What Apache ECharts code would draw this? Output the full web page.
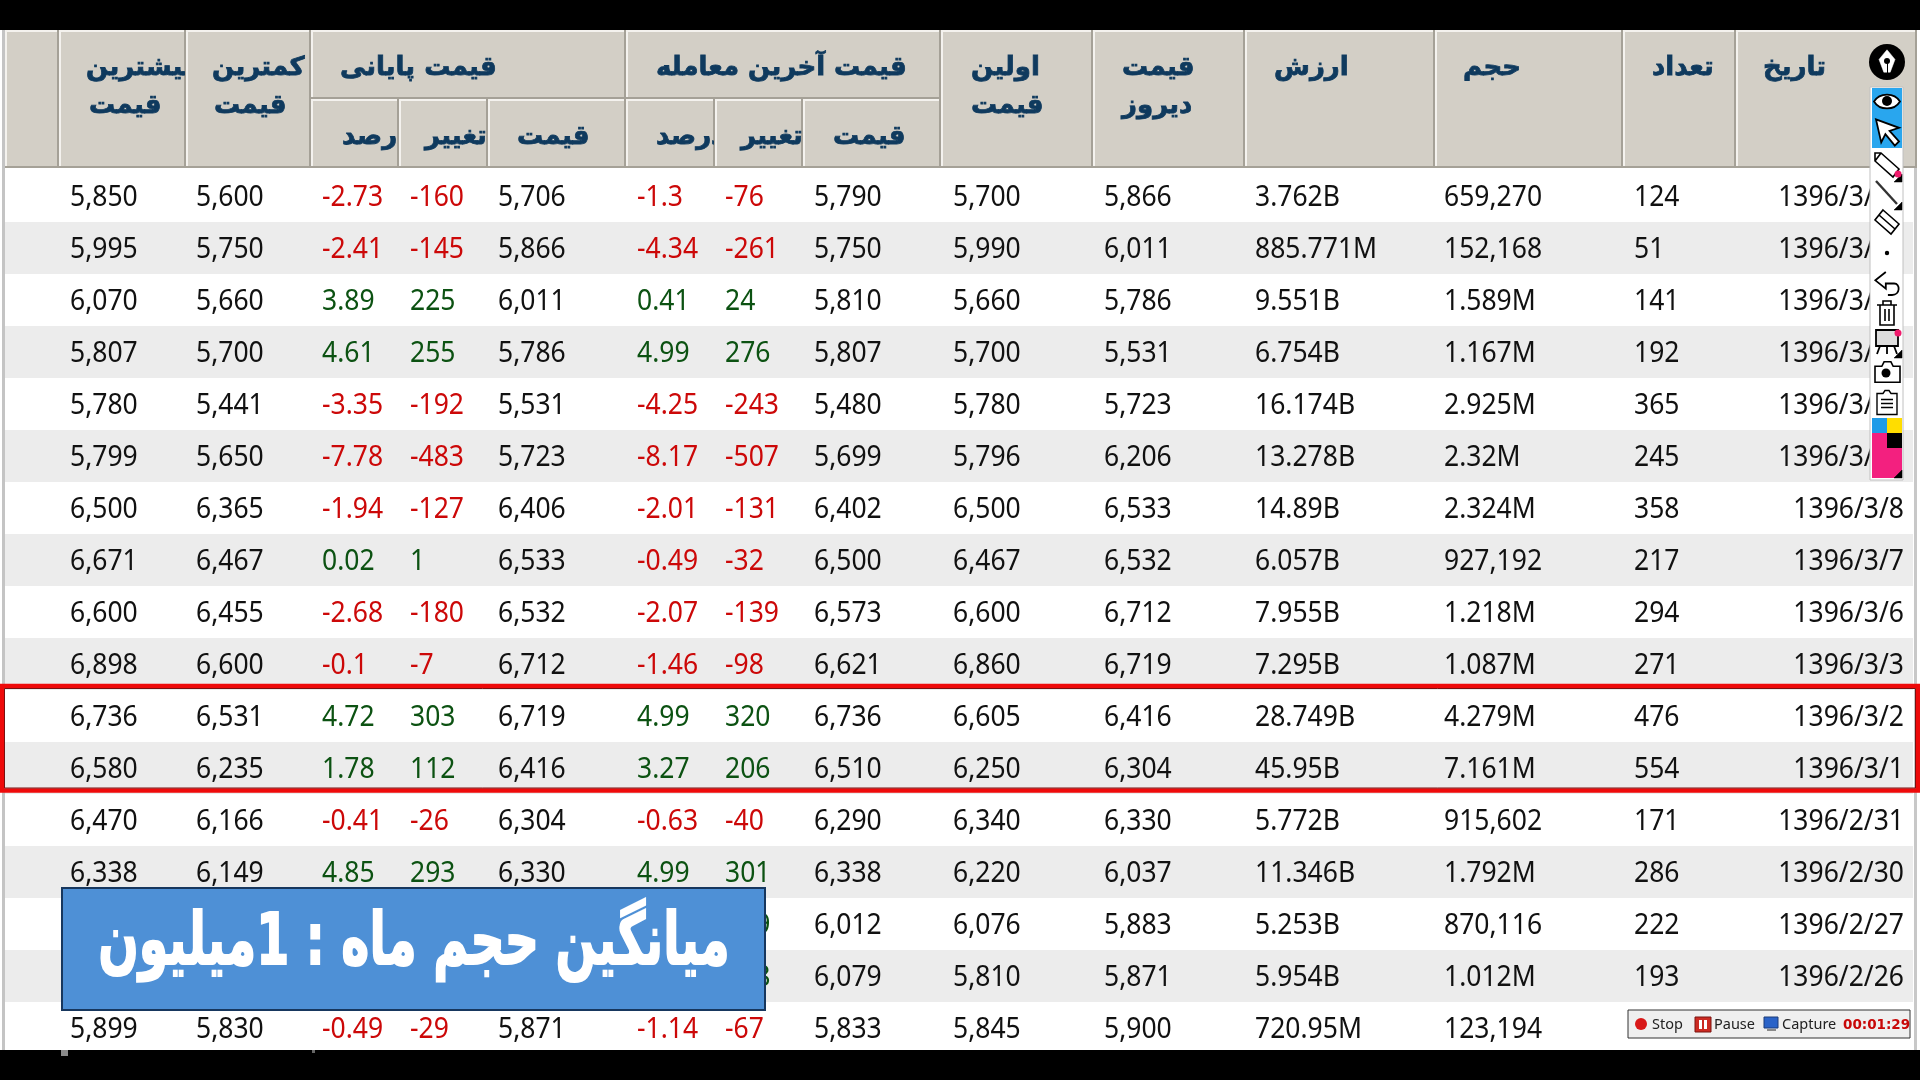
<!DOCTYPE html>
<html>
<head>
<meta charset="utf-8">
<style>html,body{margin:0;padding:0;background:#000}#main{width:1920px;height:1080px}</style>
<script src="https://cdn.jsdelivr.net/npm/echarts@6/dist/echarts.min.js"></script>
</head>
<body>
<div id="main"></div>
<script>
// table columns, top row first. null = hidden under the blue banner
var maxPrices = ['5,850','5,995','6,070','5,807','5,780','5,799','6,500','6,671','6,600','6,898','6,736','6,580','6,470','6,338',null,null,'5,899'];
var minPrices = ['5,600','5,750','5,660','5,700','5,441','5,650','6,365','6,467','6,455','6,600','6,531','6,235','6,166','6,149',null,null,'5,830'];
var closePercents = ['-2.73','-2.41','3.89','4.61','-3.35','-7.78','-1.94','0.02','-2.68','-0.1','4.72','1.78','-0.41','4.85',null,null,'-0.49'];
var closeChanges = ['-160','-145','225','255','-192','-483','-127','1','-180','-7','303','112','-26','293',null,null,'-29'];
var closePrices = ['5,706','5,866','6,011','5,786','5,531','5,723','6,406','6,533','6,532','6,712','6,719','6,416','6,304','6,330',null,null,'5,871'];
var lastPercents = ['-1.3','-4.34','0.41','4.99','-4.25','-8.17','-2.01','-0.49','-2.07','-1.46','4.99','3.27','-0.63','4.99',null,null,'-1.14'];
var lastChanges = ['-76','-261','24','276','-243','-507','-131','-32','-139','-98','320','206','-40','301','129','208','-67'];
var lastPrices = ['5,790','5,750','5,810','5,807','5,480','5,699','6,402','6,500','6,573','6,621','6,736','6,510','6,290','6,338','6,012','6,079','5,833'];
var firstPrices = ['5,700','5,990','5,660','5,700','5,780','5,796','6,500','6,467','6,600','6,860','6,605','6,250','6,340','6,220','6,076','5,810','5,845'];
var yesterdayPrices = ['5,866','6,011','5,786','5,531','5,723','6,206','6,533','6,532','6,712','6,719','6,416','6,304','6,330','6,037','5,883','5,871','5,900'];
var tradeValues = ['3.762B','885.771M','9.551B','6.754B','16.174B','13.278B','14.89B','6.057B','7.955B','7.295B','28.749B','45.95B','5.772B','11.346B','5.253B','5.954B','720.95M'];
var volumes = ['659,270','152,168','1.589M','1.167M','2.925M','2.32M','2.324M','927,192','1.218M','1.087M','4.279M','7.161M','915,602','1.792M','870,116','1.012M','123,194'];
var counts = ['124','51','141','192','365','245','358','217','294','271','476','554','171','286','222','193','194'];
var dates = ['1396/3/21','1396/3/20','1396/3/17','1396/3/16','1396/3/13','1396/3/10','1396/3/8','1396/3/7','1396/3/6','1396/3/3','1396/3/2','1396/3/1','1396/2/31','1396/2/30','1396/2/27','1396/2/26','1396/2/25'];
var highlightRows = [10, 11];

// column layout: [values, x of the text, signed?]
var columns = [
    [maxPrices, 70, false], [minPrices, 196, false],
    [closePercents, 322, true], [closeChanges, 410, true], [closePrices, 498, false],
    [lastPercents, 637, true], [lastChanges, 725, true], [lastPrices, 814, false],
    [firstPrices, 953, false], [yesterdayPrices, 1104, false], [tradeValues, 1255, false],
    [volumes, 1444, false], [counts, 1634, false]
];
var dateRight = 1904;

// header boxes: x0, x1, y0, y1
var headerBoxes = [
    [5,59,30,168],[59,186,30,168],[186,311,30,168],
    [311,626,30,99],[311,399,99,168],[399,488,99,168],[488,626,99,168],
    [626,941,30,99],[626,715,99,168],[715,803,99,168],[803,941,99,168],
    [941,1093,30,168],[1093,1245,30,168],[1245,1435,30,168],[1435,1623,30,168],[1623,1736,30,168],[1736,1917,30,168]
];
// header labels: box index, text, x, y
var headerLabels = [
    [1,'بیشترین',86,68],[1,'قیمت',89,106],
    [2,'کمترین',212,68],[2,'قیمت',214,106],
    [3,'قیمت پایانی',340,68],[4,'درصد',342,137],[5,'تغییر',425,137],[6,'قیمت',517,137],
    [7,'قیمت آخرین معامله',656,68],[8,'درصد',656,137],[9,'تغییر',741,137],[10,'قیمت',833,137],
    [11,'اولین',971,68],[11,'قیمت',971,106],
    [12,'قیمت',1122,68],[12,'دیروز',1122,106],
    [13,'ارزش',1274,68],[14,'حجم',1463,68],[15,'تعداد',1652,68],[16,'تاریخ',1763,68]
];

var rowIndex = dates.map(function (d, i) { return i; });
var cellFont = '28.5px "Noto Sans"';
var cellScale = 0.93;
var headFont = 'bold 26px "DejaVu Sans"';
var navy = '#0f3a5e', red = '#cc0808', green = '#0c5212';

var series = [];

// row stripes
series.push({
    type: 'custom', z: 1, silent: true,
    data: rowIndex.map(function (i) { return [5, i]; }),
    renderItem: function (params, api) {
        var p = api.coord([5, api.value(1)]);
        var h = api.size([0, 1])[1];
        return {type: 'rect', shape: {x: 5, y: p[1] - h / 2, width: 1908, height: h},
            style: {fill: api.value(1) % 2 ? '#ececec' : '#ffffff'}};
    }
});

columns.forEach(function (col) {
    var values = col[0];
    series.push({
        type: 'custom', z: 2, silent: true,
        data: values.map(function (v, i) { return [col[1], i]; }),
        renderItem: function (params, api) {
            var text = values[params.dataIndex];
            if (text === null) return;
            var p = api.coord([api.value(0), api.value(1)]);
            var fill = col[2] ? (text.charAt(0) === '-' ? red : green) : '#111111';
            return {type: 'text', x: p[0], y: p[1] + 1.8, scaleX: cellScale,
                style: {text: text, x: 0, y: 0, fill: fill, font: cellFont,
                    textAlign: 'left', textVerticalAlign: 'middle'}};
        }
    });
});

// dates are right aligned
series.push({
    type: 'custom', z: 2, silent: true,
    data: dates.map(function (d, i) { return [dateRight, i]; }),
    renderItem: function (params, api) {
        var p = api.coord([api.value(0), api.value(1)]);
        return {type: 'text', x: p[0], y: p[1] + 1.8, scaleX: cellScale,
            style: {text: dates[params.dataIndex], x: 0, y: 0, fill: '#111111',
                font: cellFont, textAlign: 'right', textVerticalAlign: 'middle'}};
    }
});

// red box round the two rows
series.push({
    type: 'custom', z: 4, silent: true,
    data: [[0, highlightRows[0], highlightRows[1]]],
    renderItem: function (params, api) {
        var a = api.coord([0, api.value(1)]);
        var b = api.coord([0, api.value(2)]);
        var h = api.size([0, 1])[1];
        var top = a[1] - h / 2 - 4, bottom = b[1] + h / 2 - 3.5;
        return {type: 'group', children: [
            {type: 'rect', shape: {x: 2, y: top, width: 1916, height: bottom - top},
                style: {fill: 'none', stroke: '#ee0a0a', lineWidth: 4.5}},
            {type: 'rect', shape: {x: 4.5, y: top + 2.5, width: 1911, height: bottom - top - 5},
                style: {fill: 'none', stroke: '#7a1010', lineWidth: 1}}
        ]};
    }
});

// header boxes
series.push({
    type: 'custom', z: 3, silent: true,
    data: headerBoxes,
    renderItem: function (params, api) {
        var x0 = api.coord([api.value(0), 0])[0], x1 = api.coord([api.value(1), 0])[0];
        var y0 = api.value(2), y1 = api.value(3);
        return {type: 'group', children: [
            {type: 'rect', shape: {x: x0, y: y0, width: x1 - x0, height: y1 - y0}, style: {fill: '#d3cfc6'}},
            {type: 'rect', shape: {x: x0, y: y0, width: 2, height: y1 - y0}, style: {fill: '#f4f2ee'}},
            {type: 'rect', shape: {x: x0, y: y0, width: x1 - x0, height: 2}, style: {fill: '#f4f2ee'}},
            {type: 'rect', shape: {x: x1 - 2, y: y0, width: 2, height: y1 - y0}, style: {fill: '#a5a197'}},
            {type: 'rect', shape: {x: x0, y: y1 - 2, width: x1 - x0, height: 2}, style: {fill: '#a5a197'}}
        ]};
    }
});

// header labels, cut off at the edge of their box like in the old table control
series.push({
    type: 'custom', z: 3, silent: true,
    data: headerLabels.map(function (l) { return [l[2], l[3]]; }),
    renderItem: function (params, api) {
        var l = headerLabels[params.dataIndex];
        var box = headerBoxes[l[0]];
        return {type: 'text', z2: 5,
            clipPath: {type: 'rect', shape: {x: box[0] + 2, y: box[2], width: box[1] - box[0] - 3, height: box[3] - box[2]}},
            style: {text: l[1], x: l[2], y: l[3], fill: navy, stroke: navy, lineWidth: 0.8, font: headFont,
                textAlign: 'left', textVerticalAlign: 'middle'}};
    }
});

// overlays of the screen recording
var g = [];
var icons = [];
function rect(x, y, w, h, fill, stroke, lw, z) {
    g.push({type: 'rect', z: z === undefined ? 100 : z, shape: {x: x, y: y, width: w, height: h},
        style: {fill: fill, stroke: stroke || null, lineWidth: lw || 0}});
}
function txt(s, x, y, font, fill, align) {
    g.push({type: 'text', z: 101, style: {text: s, x: x, y: y, font: font, fill: fill,
        textAlign: align || 'left', textVerticalAlign: 'middle'}});
}
function dot(x, y, r, fill, z) {
    g.push({type: 'circle', z: z || 120, shape: {cx: x, cy: y, r: r}, style: {fill: fill}});
}
function icon(d, x, y, w, h, fill, stroke, lw) {
    icons.push({type: 'path', shape: {pathData: d, x: x, y: y, width: w, height: h, layout: 'center'},
        style: {fill: fill, stroke: stroke, lineWidth: lw || 1.6}});
}

rect(0, 30, 1920, 1020, '#ffffff', null, 0, 0);
rect(2, 30, 3, 1020, '#c4c4c4', null, 0, 3);
rect(1914, 30, 3, 1020, '#c8c8c8', null, 0, 3);
rect(0, 0, 1920, 30, '#000');
rect(0, 1050, 1920, 30, '#000');
rect(61, 1050, 7, 6, '#8a8a8a', null, 0, 101);
rect(312, 1050, 3, 3, '#666666', null, 0, 101);

// banner
rect(62, 888, 703, 122, '#4e90d6', '#17375e', 2);
g.push({type: 'text', z: 101, x: 414, y: 945, scaleX: 0.66, style: {text: '\u202Bمیانگین حجم ماه : 1میلیون\u202C',
    x: 0, y: 0, font: 'bold 72px "DejaVu Sans"', fill: '#ffffff', stroke: '#ffffff', lineWidth: 2,
    textAlign: 'center', textVerticalAlign: 'middle'}});

// recorder bar
rect(1628, 1010, 282, 28, '#efefef', '#333333', 1);
dot(1641, 1024, 6, '#d81818');
txt('Stop', 1652, 1025, '14.5px "Noto Sans"', '#222222');
rect(1695, 1017, 16, 15, '#cc2a22', '#7a1410', 1);
rect(1699, 1020, 3, 9, '#ffffff');
rect(1704, 1020, 3, 9, '#ffffff');
txt('Pause', 1714, 1025, '14.5px "Noto Sans"', '#222222');
rect(1764, 1017, 14, 11, '#2a63c8', '#1c3c78', 1);
rect(1767, 1029, 9, 2, '#8a8a8a');
txt('Capture', 1782, 1025, '14.5px "Noto Sans"', '#222222');
txt('00:01:29', 1843, 1025, 'bold 13.5px "DejaVu Sans"', '#c80808');

// pen toolbar
dot(1887, 62, 18, '#000', 105);
icon('M12 0 L22 12 L16 28 L8 28 L2 12 Z', 1879, 48, 16, 26, '#ffffff', '#ffffff', 0.5);
rect(1887, 61, 1, 13, '#000', null, 0, 120);
rect(1870, 87, 33, 393, '#ffffff', '#c0c0c0', 1);
rect(1872, 88, 30, 60, '#29a6ee');
icon('M0 10 C6 0 22 0 28 10 C22 20 6 20 0 10 Z', 1874, 93, 26, 17, '#ffffff', '#000', 1.8);
icon('M0 0 L22 8 L13 11 L22 21 L18 25 L9 14 L5 22 Z', 1876, 119, 23, 27, '#ffffff', '#000', 1.8);
icon('M6 0 L24 16 L18 24 L0 8 L0 0 Z M0 8 L6 0', 1875, 153, 24, 24, '#ffffff', '#000', 1.6);
icon('M0 0 L22 24', 1876, 180, 21, 25, 'none', '#333333', 2.4);
icon('M8 0 L24 14 L16 24 L0 10 Z M4 5 L20 19', 1875, 210, 24, 24, '#ffffff', '#000', 1.6);
icon('M10 0 L0 8 L10 16 L10 11 L18 11 C24 11 24 22 16 22 L12 22', 1875, 272, 24, 23, 'none', '#000', 1.8);
icon('M0 4 L20 4 M6 4 L6 0 L14 0 L14 4 M3 4 L3 24 L17 24 L17 4 M8 8 L8 20 M12 8 L12 20', 1877, 300, 20, 26, 'none', '#000', 1.6);
icon('M0 0 L22 0 L22 16 L0 16 Z M4 16 L1 24 M18 16 L21 24 M11 16 L11 24', 1876, 329, 22, 26, '#dddddd', '#000', 1.8);
icon('M0 4 L6 4 L8 0 L14 0 L16 4 L22 4 L22 18 L0 18 Z', 1875, 360, 25, 24, '#ffffff', '#000', 1.6);
icon('M0 3 L6 3 L8 0 L12 0 L14 3 L20 3 L20 24 L0 24 Z M4 9 L16 9 M4 13 L16 13 M4 17 L16 17', 1877, 389, 20, 27, '#ffffff', '#000', 1.4);
icon('M8 0 L8 8 L0 8 Z', 1894, 174, 8, 8, '#000', '#000', 0.5);
icon('M8 0 L8 8 L0 8 Z', 1894, 202, 8, 8, '#000', '#000', 0.5);
icon('M8 0 L8 8 L0 8 Z', 1894, 350, 8, 8, '#000', '#000', 0.5);
icon('M8 0 L8 8 L0 8 Z', 1894, 470, 8, 8, '#000', '#000', 0.5);
dot(1887, 61, 3, '#000');
dot(1887, 101, 5, '#000');
dot(1898, 174, 3.5, '#f01a6c');
dot(1887, 253, 2.2, '#000');
dot(1898, 333, 3.5, '#f01a6c');
dot(1886, 373, 4.5, '#000');
rect(1872, 418, 15, 15, '#1e9be8');
rect(1887, 418, 15, 15, '#ffdd00');
rect(1872, 433, 30, 45, '#f3207f');
rect(1887, 433, 15, 15, '#000');

series.push({
    type: 'custom', z: 110, silent: true,
    data: icons.map(function (d, i) { return [i]; }),
    renderItem: function (params) { return icons[params.dataIndex]; }
});

var chart = echarts.init(document.getElementById('main'), null, {renderer: 'canvas'});
chart.setOption({
    backgroundColor: '#000',
    animation: false,
    grid: {left: 0, right: 0, top: 170, bottom: 26},
    xAxis: {type: 'value', min: 0, max: 1920, show: false},
    yAxis: {type: 'category', data: dates, inverse: true, show: false},
    series: series,
    graphic: {elements: g}
});
</script>
</body>
</html>
